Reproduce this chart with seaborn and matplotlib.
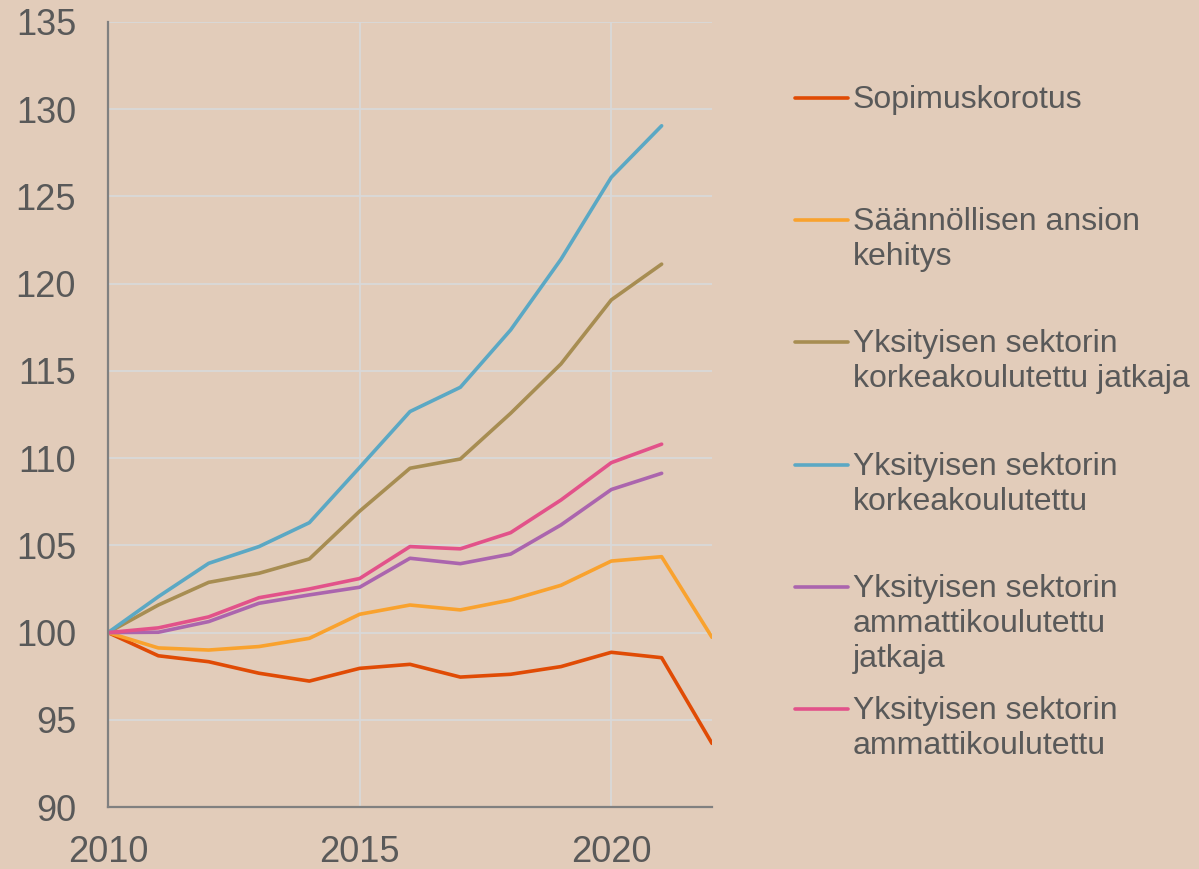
import pandas as pd
import seaborn as sns
import matplotlib.pyplot as plt
from matplotlib.lines import Line2D

# data (index, 2010 = 100)
years_long = list(range(2010, 2023))
years_short = list(range(2010, 2022))

sopimuskorotus = [100, 98.67, 98.33, 97.67, 97.22, 97.95, 98.18, 97.45, 97.61, 98.05, 98.87, 98.56, 93.65]
saannollinen = [100, 99.12, 99.0, 99.2, 99.67, 101.05, 101.58, 101.3, 101.87, 102.71, 104.1, 104.35, 99.73]
korkea_jatkaja = [100, 101.58, 102.88, 103.4, 104.22, 106.96, 109.42, 109.95, 112.57, 115.4, 119.07, 121.12]
korkea = [100, 102.06, 103.97, 104.93, 106.3, 109.47, 112.67, 114.06, 117.35, 121.4, 126.1, 129.05]
ammatti_jatkaja = [100, 100.02, 100.63, 101.68, 102.16, 102.6, 104.26, 103.95, 104.5, 106.17, 108.2, 109.13]
ammatti = [100, 100.27, 100.9, 102.0, 102.5, 103.1, 104.93, 104.8, 105.73, 107.6, 109.74, 110.8]

labels = [
    "Sopimuskorotus",
    "Säännöllisen ansion\nkehitys",
    "Yksityisen sektorin\nkorkeakoulutettu jatkaja",
    "Yksityisen sektorin\nkorkeakoulutettu",
    "Yksityisen sektorin\nammattikoulutettu\njatkaja",
    "Yksityisen sektorin\nammattikoulutettu",
]
colors = ["#E04B05", "#F9A22E", "#A78D52", "#5BA8C4", "#AB65AE", "#E2528A"]

series = [
    (years_long, sopimuskorotus),
    (years_long, saannollinen),
    (years_short, korkea_jatkaja),
    (years_short, korkea),
    (years_short, ammatti_jatkaja),
    (years_short, ammatti),
]

rows = []
for lab, (yrs, vals) in zip(labels, series):
    for yr, v in zip(yrs, vals):
        rows.append({"vuosi": yr, "indeksi": v, "sarja": lab})
df = pd.DataFrame(rows)

bg = "#E2CCBA"
text_col = "#595959"

sns.set_style("white")
plt.rcParams["font.family"] = ["Liberation Sans", "DejaVu Sans"]

fig = plt.figure(figsize=(11.99, 8.69), dpi=100, facecolor=bg)
ax = fig.add_axes([0.0901, 0.0713, 0.5037, 0.9034])
ax.set_facecolor(bg)

sns.lineplot(data=df, x="vuosi", y="indeksi", hue="sarja", hue_order=labels,
             palette=dict(zip(labels, colors)), linewidth=2.6, legend=False, ax=ax)

ax.set_xlim(2010, 2022)
ax.set_ylim(90, 135)
ax.set_xticks([2010, 2015, 2020])
ax.set_yticks(range(90, 136, 5))
ax.grid(True, color="#D9D9D9", linewidth=1.3)
ax.set_axisbelow(True)
ax.set_xlabel("")
ax.set_ylabel("")
ax.tick_params(axis="both", length=0, labelsize=26, labelcolor=text_col)
ax.tick_params(axis="y", pad=23)
ax.tick_params(axis="x", pad=20)
for side in ["top", "right"]:
    ax.spines[side].set_visible(False)
for side in ["left", "bottom"]:
    ax.spines[side].set_color("#808080")
    ax.spines[side].set_linewidth(1.6)

# legend drawn by hand: fixed slot height, handle on the first text line
W, H = 1199, 869
for i, (lab, col) in enumerate(zip(labels, colors)):
    yc = 98 + i * 122.2
    fig.add_artist(Line2D([795 / W, 848 / W], [1 - yc / H, 1 - yc / H],
                          color=col, linewidth=2.6, transform=fig.transFigure))
    fig.text(853 / W, 1 - (yc - 13) / H, lab, fontsize=23, color=text_col,
             va="top", ha="left", linespacing=1.22)

fig.savefig("out.png", dpi=100, facecolor=bg)
